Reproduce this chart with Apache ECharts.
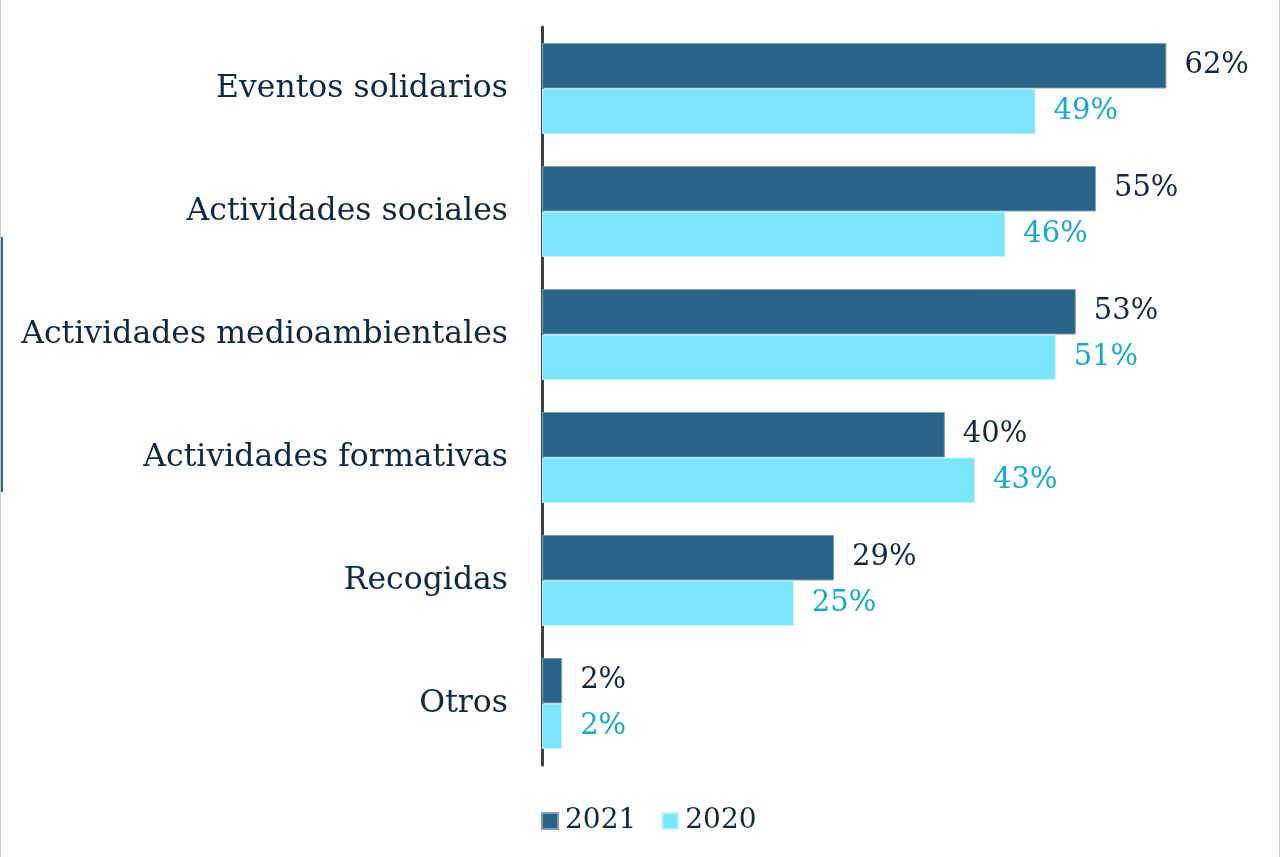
<!DOCTYPE html>
<html>
<head>
<meta charset="utf-8">
<script src="https://cdn.jsdelivr.net/npm/echarts@6/dist/echarts.min.js"></script>
<style>
  html, body { margin: 0; padding: 0; background: #fff; }
  #chart { width: 1280px; height: 857px; box-sizing: border-box; border-left: 1px solid #c8c8c8; border-right: 1px solid #c8c8c8; }
</style>
</head>
<body>
<div id="chart"></div>
<script>
const categories = ['Eventos solidarios', 'Actividades sociales', 'Actividades medioambientales', 'Actividades formativas', 'Recogidas', 'Otros'];
const values2021 = [62, 55, 53, 40, 29, 2];
const values2020 = [49, 46, 51, 43, 25, 2];

const textColor = '#0c2a44';
const font = 'DejaVu Serif';

const myChart = echarts.init(document.getElementById('chart'));
const option = {
    animation: false,
    grid: {
        left: 541,
        right: 32,
        top: 27,
        bottom: 92
    },
    xAxis: {
        type: 'value',
        min: 0,
        max: 70,
        show: false
    },
    yAxis: {
        type: 'category',
        inverse: true,
        data: categories,
        axisLine: { lineStyle: { color: '#404040', width: 3 } },
        axisTick: { show: false },
        axisLabel: {
            color: textColor,
            fontFamily: font,
            fontSize: 31.5,
            margin: 34
        }
    },
    legend: {
        bottom: 17,
        left: 535,
        itemWidth: 16,
        itemHeight: 16,
        itemGap: 25,
        icon: 'rect',
        textStyle: { color: textColor, fontFamily: font, fontSize: 28, padding: [0, 0, 0, 2] },
        data: ['2021', '2020']
    },
    graphic: [{
        type: 'rect',
        shape: { x: 0, y: 237, width: 2, height: 255 },
        style: { fill: '#2b6792' }
    }],
    series: [
        {
            name: '2021',
            type: 'bar',
            data: values2021,
            barGap: '0%',
            barCategoryGap: '26%',
            itemStyle: { color: '#2a6388', borderColor: '#7b9fb8', borderWidth: 1 },
            label: {
                show: true,
                position: 'right',
                distance: 18,
                formatter: '{c}%',
                color: textColor,
                fontFamily: font,
                fontSize: 29
            }
        },
        {
            name: '2020',
            type: 'bar',
            data: values2020,
            itemStyle: { color: '#7ae5fd', borderColor: '#c4f2fc', borderWidth: 1 },
            label: {
                show: true,
                position: 'right',
                distance: 18,
                formatter: '{c}%',
                color: '#16aad0',
                fontFamily: font,
                fontSize: 29
            }
        }
    ]
};
myChart.setOption(option);
</script>
</body>
</html>
